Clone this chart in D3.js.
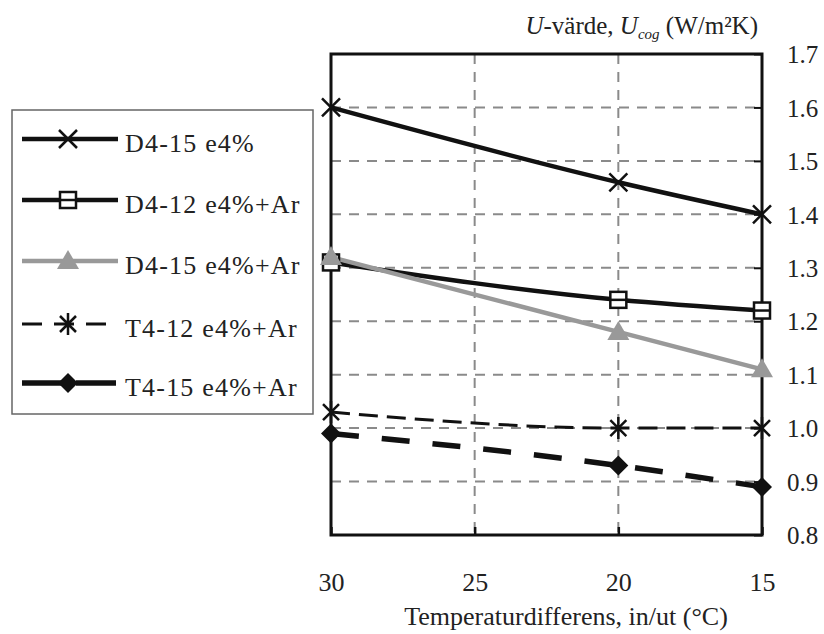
<!DOCTYPE html>
<html><head><meta charset="utf-8">
<script src="https://cdn.jsdelivr.net/npm/d3@7"></script>
<style>body{margin:0;background:#fff}svg{display:block}</style>
</head><body><svg id="c" width="824" height="634"></svg>
<script>
const xValues = [30, 20, 15];
const xTicks = [30, 25, 20, 15];
const yTicks = [0.8, 0.9, 1.0, 1.1, 1.2, 1.3, 1.4, 1.5, 1.6, 1.7];
const seriesNames = ["D4-15 e4%", "D4-12 e4%+Ar", "D4-15 e4%+Ar", "T4-12 e4%+Ar", "T4-15 e4%+Ar"];
const s1 = [1.60, 1.46, 1.40];
const s2 = [1.31, 1.24, 1.22];
const s3 = [1.32, 1.18, 1.11];
const s4 = [1.03, 1.00, 1.00];
const s5 = [0.99, 0.93, 0.89];
const seriesValues = [s1, s2, s3, s4, s5];

const FONT = "'Liberation Serif'";
const TXT = "#222";
const styles = [
  {color:"#111", width:4.5, dash:null, legDash:null, marker:"x"},
  {color:"#111", width:4.5, dash:null, legDash:null, marker:"square"},
  {color:"#999", width:4.5, dash:null, legDash:null, marker:"triangle"},
  {color:"#111", width:3, dash:"19,9", legDash:"20,12", marker:"asterisk"},
  {color:"#111", width:5.5, dash:"28,23", legDash:"40,14", marker:"diamond"}
];

const svg = d3.select("#c");
const L = 331, R = 762, T = 54, B = 535;
const x = d3.scaleLinear().domain([30, 15]).range([L, R]);
const y = d3.scaleLinear().domain([0.8, 1.7]).range([B, T]);

// grid
const g = svg.append("g");
g.selectAll(".hg").data(yTicks.slice(1, -1)).join("line")
  .attr("x1", L).attr("x2", R).attr("y1", d => y(d)).attr("y2", d => y(d))
  .attr("stroke", "#8a8a8a").attr("stroke-width", 2).attr("stroke-dasharray", "10,8");
g.selectAll(".vg").data(xTicks.slice(1, -1)).join("line")
  .attr("y1", T).attr("y2", B).attr("x1", d => x(d)).attr("x2", d => x(d))
  .attr("stroke", "#8a8a8a").attr("stroke-width", 2).attr("stroke-dasharray", "10,8");

// axes
const yAxis = d3.axisRight(y).tickValues(yTicks).tickFormat(d3.format(".1f")).tickSizeInner(-8).tickSizeOuter(0);
const ya = svg.append("g").attr("transform", `translate(${R},0)`).call(yAxis);
ya.select(".domain").remove();
ya.selectAll("line").attr("stroke", "#111").attr("stroke-width", 2);
ya.selectAll("text").attr("x", 25).attr("dy", "0.35em").attr("font-size", 25)
  .style("font-family", FONT).attr("fill", TXT);

const xAxis = d3.axisBottom(x).tickValues(xTicks).tickFormat(d3.format("d")).tickSizeInner(-8).tickSizeOuter(0);
const xa = svg.append("g").attr("transform", `translate(0,${B})`).call(xAxis);
xa.select(".domain").remove();
xa.selectAll("line").attr("stroke", "#111").attr("stroke-width", 2.5);
xa.selectAll("text").attr("y", 56).attr("dy", 0).attr("font-size", 26)
  .style("font-family", FONT).attr("fill", TXT);

// frame
svg.append("rect").attr("x", L).attr("y", T).attr("width", R - L).attr("height", B - T)
  .attr("fill", "none").attr("stroke", "#111").attr("stroke-width", 3);

// titles
const ttl = svg.append("text").attr("x", 758).attr("y", 34).attr("text-anchor", "end").attr("font-size", 25)
  .style("font-family", FONT).attr("fill", TXT);
ttl.append("tspan").attr("font-style", "italic").text("U");
ttl.append("tspan").text("-värde, ");
ttl.append("tspan").attr("font-style", "italic").text("U");
ttl.append("tspan").attr("font-style", "italic").attr("font-size", 15).attr("dy", 5).text("cog");
ttl.append("tspan").attr("dy", -5).text(" (W/m²K)");

svg.append("text").attr("x", 566).attr("y", 625).attr("text-anchor", "middle").attr("font-size", 26)
  .style("font-family", FONT).attr("fill", TXT)
  .text("Temperaturdifferens, in/ut (°C)");

// markers
function drawMarker(sel, type, cx, cy) {
  const m = sel.append("g").attr("transform", `translate(${cx},${cy})`);
  if (type === "x") {
    m.append("path").attr("d", "M-9,-9L9,9M-9,9L9,-9").attr("stroke", "#111").attr("stroke-width", 2.5).attr("fill", "none");
  } else if (type === "square") {
    m.append("rect").attr("x", -8).attr("y", -8).attr("width", 16).attr("height", 16)
      .attr("fill", "#fff").attr("stroke", "#111").attr("stroke-width", 2.5);
    m.append("line").attr("x1", -8).attr("x2", 8).attr("stroke", "#111").attr("stroke-width", 2.5);
  } else if (type === "triangle") {
    m.append("path").attr("d", "M0,-11L11,8L-11,8Z").attr("fill", "#999");
  } else if (type === "asterisk") {
    m.append("path").attr("d", "M-8,-8L8,8M-8,8L8,-8M0,-11L0,11").attr("stroke", "#111").attr("stroke-width", 2.5).attr("fill", "none");
  } else if (type === "diamond") {
    m.append("path").attr("d", "M0,-10L10,0L0,10L-10,0Z").attr("fill", "#111");
  }
}

const line = d3.line().x(d => x(d[0])).y(d => y(d[1])).curve(d3.curveMonotoneX);
const plot = svg.append("g");
seriesValues.forEach((vals, i) => {
  const st = styles[i];
  const pts = xValues.map((xv, j) => [xv, vals[j]]);
  plot.append("path").datum(pts).attr("d", line).attr("fill", "none")
    .attr("stroke", st.color).attr("stroke-width", st.width)
    .attr("stroke-dasharray", st.dash);
});
seriesValues.forEach((vals, i) => {
  xValues.forEach((xv, j) => drawMarker(plot, styles[i].marker, x(xv), y(vals[j])));
});

// legend
const lg = svg.append("g");
lg.append("rect").attr("x", 12).attr("y", 110).attr("width", 301).attr("height", 304)
  .attr("fill", "#fff").attr("stroke", "#666").attr("stroke-width", 1.5);
const ly = [139, 200, 261, 324, 383];
seriesNames.forEach((name, i) => {
  const st = styles[i];
  lg.append("line").attr("x1", 22).attr("x2", 118).attr("y1", ly[i]).attr("y2", ly[i])
    .attr("stroke", st.color).attr("stroke-width", st.width).attr("stroke-dasharray", st.legDash);
  drawMarker(lg, st.marker, 68, ly[i]);
  lg.append("text").attr("x", 125).attr("y", ly[i] + 12.5).attr("font-size", 26)
    .attr("letter-spacing", 1.2)
    .style("font-family", FONT).attr("fill", TXT).text(name);
});
</script></body></html>
